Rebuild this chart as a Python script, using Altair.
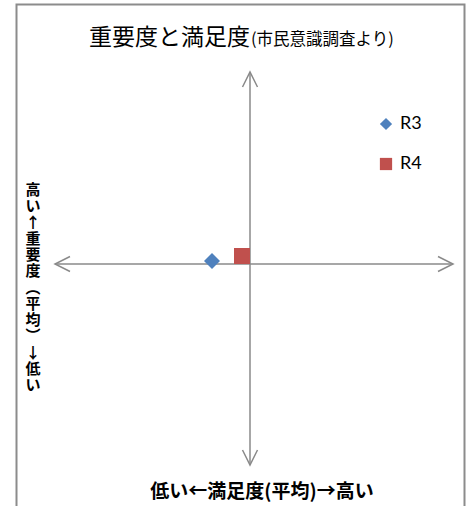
import altair as alt
import pandas as pd

# Survey results: mean satisfaction (x) and mean importance (y), centred on the crossing point
series = ["R3", "R4"]
satisfaction = [-0.38, -0.08]
importance = [0.03, 0.08]
colors = ["#4F81BD", "#C0504D"]
shapes = ["diamond", "square"]

# Extent of the two arrowed axes through the origin
x_axis_span = [-1.95, 2.03]
y_axis_span = [-2.01, 1.92]

title_main = "重要度と満足度"
title_note = "(市民意識調査より)"
x_label = "低い←満足度(平均)→高い"
y_label_chars = ["高", "い", "↑", "重", "要", "度", "︵", "平", "均", "︶", "↓", "低", "い"]

W, H = 469, 506
FONT = "Noto Sans CJK JP"
GRAY = "#8a8a8a"

xs = alt.Scale(domain=[-2.5, 2.19], nice=False, zero=False)
ys = alt.Scale(domain=[-2.42, 2.64], nice=False, zero=False)

points = pd.DataFrame({"series": series, "x": satisfaction, "y": importance})

axes_h = pd.DataFrame({"x": [x_axis_span[0]], "x2": [x_axis_span[1]], "y": [0.0]})
axes_v = pd.DataFrame({"x": [0.0], "y": [y_axis_span[0]], "y2": [y_axis_span[1]]})

heads = pd.DataFrame({
    "x": [x_axis_span[0], x_axis_span[1], 0.0, 0.0],
    "y": [0.0, 0.0, y_axis_span[1], y_axis_span[0]],
    "angle": [180, 0, 270, 90],
})

one = pd.DataFrame({"k": [0]})
ylab = pd.DataFrame({"ch": y_label_chars, "i": list(range(len(y_label_chars)))})

frame = alt.Chart(one).mark_rect(fillOpacity=0, stroke="#8c8c8c", strokeWidth=2).encode(
    x=alt.value(16.5), x2=alt.value(464.5), y=alt.value(4.5), y2=alt.value(530)
)

h_rule = alt.Chart(axes_h).mark_rule(color=GRAY, strokeWidth=1.5).encode(
    x=alt.X("x:Q", scale=xs, axis=None), x2="x2:Q",
    y=alt.Y("y:Q", scale=ys, axis=None),
)
v_rule = alt.Chart(axes_v).mark_rule(color=GRAY, strokeWidth=1.5).encode(
    x=alt.X("x:Q", scale=xs, axis=None),
    y=alt.Y("y:Q", scale=ys, axis=None), y2="y2:Q",
)

arrowheads = alt.Chart(heads).mark_point(
    shape="M-1,-0.5L0,0L-1,0.5", filled=False, stroke=GRAY, strokeWidth=1.5,
    size=900, opacity=1,
).encode(
    x=alt.X("x:Q", scale=xs, axis=None),
    y=alt.Y("y:Q", scale=ys, axis=None),
    angle=alt.Angle("angle:Q", scale=None),
)

marks = alt.Chart(points).mark_point(filled=True, size=256, opacity=1).encode(
    x=alt.X("x:Q", scale=xs, axis=None),
    y=alt.Y("y:Q", scale=ys, axis=None),
    color=alt.Color("series:N", scale=alt.Scale(domain=series, range=colors),
                    legend=alt.Legend(title=None, orient="none", legendX=377, legendY=115)),
    shape=alt.Shape("series:N", scale=alt.Scale(domain=series, range=shapes), legend=None),
)

t_main = alt.Chart(one).mark_text(
    text=title_main, font=FONT, fontSize=23, align="right", baseline="alphabetic", color="#000"
).encode(x=alt.value(250), y=alt.value(45))
t_note = alt.Chart(one).mark_text(
    text=title_note, font=FONT, fontSize=16.5, align="left", baseline="alphabetic", color="#000"
).encode(x=alt.value(251), y=alt.value(45))

xl = alt.Chart(one).mark_text(
    text=x_label, font=FONT, fontSize=19, fontWeight="bold", align="center",
    baseline="middle", color="#000"
).encode(x=alt.value(262), y=alt.value(492))

# stacked vertical label, one character per row
yl = alt.Chart(ylab).mark_text(
    font=FONT, fontSize=15, fontWeight="bold", align="center", baseline="middle", color="#000"
).encode(
    x=alt.value(33),
    y=alt.Y("i:O", scale=alt.Scale(type="point", range=[190, 385], padding=0), axis=None),
    text="ch:N",
)

base = alt.layer(frame, h_rule, v_rule, arrowheads, marks, t_main, t_note, xl)

chart = alt.layer(base, yl).resolve_scale(y="independent").properties(
    width=W, height=H, padding=0,
    autosize=alt.AutoSizeParams(type="none"),
).configure_view(stroke=None).configure_legend(
    symbolSize=150, symbolStrokeWidth=0, labelFont="Lato", labelFontSize=18,
    labelColor="#000", rowPadding=22, padding=0, symbolOffset=0, labelOffset=5,
    symbolType="circle",
)

chart.save("out.html", embed_options={"renderer": "svg", "actions": False})
